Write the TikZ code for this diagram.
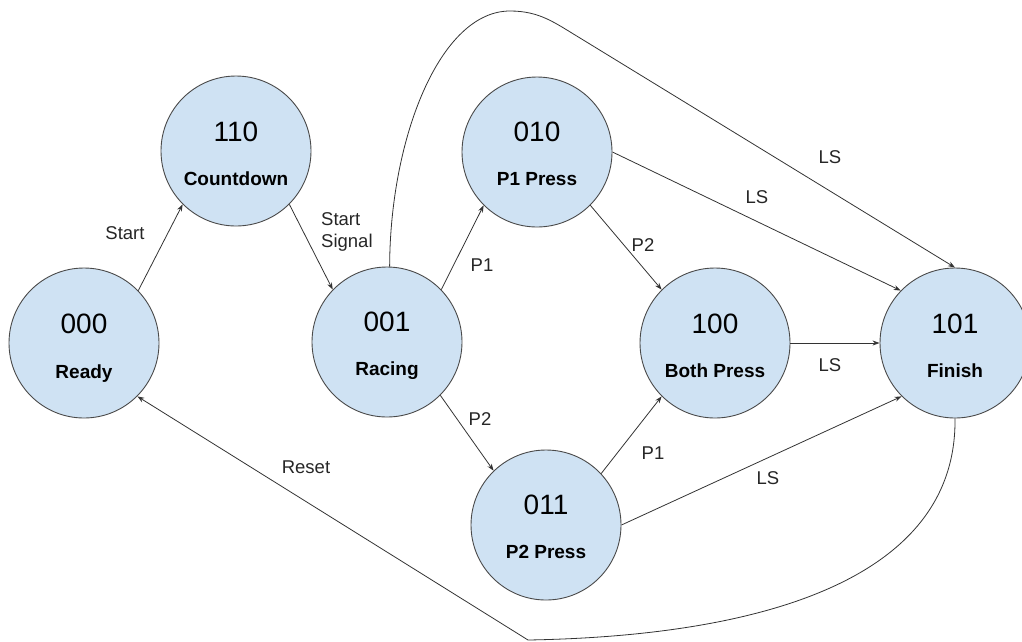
\documentclass[tikz,border=0pt]{standalone}
\usepackage{fontspec}
\setmainfont{Liberation Sans}
\usetikzlibrary{arrows.meta,calc}
\definecolor{stateblue}{HTML}{CFE2F3}
\definecolor{bordergray}{HTML}{4A4A4A}
\definecolor{linegray}{HTML}{333333}
\tikzset{
  state/.style={circle, draw=bordergray, fill=stateblue, line width=0.9pt, minimum size=150pt, inner sep=0pt},
  numtxt/.style={font=\fontsize{28}{32}\selectfont, anchor=base, inner sep=0pt},
  nametxt/.style={font=\bfseries\fontsize{19}{22}\selectfont, anchor=base, inner sep=0pt},
  edgelbl/.style={font=\fontsize{18.5}{22}\selectfont, inner sep=0pt, text=black!85},
  trans/.style={draw=linegray, line width=0.8pt, -{Stealth[length=7pt,width=5pt]}},
}
\begin{document}
\begin{tikzpicture}[x=1pt,y=-1pt]
\useasboundingbox (0,0) rectangle (1022,641);
% states
\node[state] (ready) at (84,343) {};
\node[state] (countdown) at (236,151) {};
\node[state] (racing) at (387,342) {};
\node[state] (p1) at (537,152) {};
\node[state] (p2) at (546,525) {};
\node[state] (both) at (715,343) {};
\node[state] (finish) at (955,343) {};
% state texts
\node[numtxt] (readyn) at ($(ready)+(0,-10)$) {000};
\node[nametxt] (readyl) at ($(ready)+(0,35)$) {Ready};
\node[numtxt] (countdownn) at ($(countdown)+(0,-10)$) {110};
\node[nametxt] (countdownl) at ($(countdown)+(0,34)$) {Countdown};
\node[numtxt] (racingn) at ($(racing)+(0,-11)$) {001};
\node[nametxt] (racingl) at ($(racing)+(0,33)$) {Racing};
\node[numtxt] (p1n) at ($(p1)+(0,-11)$) {010};
\node[nametxt] (p1l) at ($(p1)+(0,33)$) {P1 Press};
\node[numtxt] (p2n) at ($(p2)+(0,-11)$) {011};
\node[nametxt] (p2l) at ($(p2)+(0,33)$) {P2 Press};
\node[numtxt] (bothn) at ($(both)+(0,-10)$) {100};
\node[nametxt] (bothl) at ($(both)+(0,34)$) {Both Press};
\node[numtxt] (finishn) at ($(finish)+(0,-10)$) {101};
\node[nametxt] (finishl) at ($(finish)+(0,34)$) {Finish};
% helper coordinates
\coordinate (tp) at (510,11);
\coordinate (tq) at (580,38);
\coordinate (rb) at (528,640);
% transitions
\draw[trans] (ready.44) -- (countdown.225);
\draw[trans] (countdown.-45) -- (racing.136);
\draw[trans] (racing.44) -- (p1.225);
\draw[trans] (racing.-45) -- (p2.134);
\draw[trans] (p1.-45) -- (both.135);
\draw[trans] (p2.43) -- (both.225);
\draw[trans] (p1.0) -- (finish.136);
\draw[trans] (both.0) -- (finish.180);
\draw[trans] (p2.0) -- (finish.225);
\draw[trans] (racing.88) .. controls (390,138) and (440,11) .. (tp)
   .. controls (540,11) and (555,23) .. (tq) -- (finish.north);
\draw[trans] (finish.south) .. controls (957,580) and (760,636) .. (rb) -- (ready.-45);
% labels
\node[edgelbl] (lstart) at (125,233) {Start};
\node[edgelbl, anchor=north west, align=left] (lsig) at (321,212) {Start\\Signal};
\node[edgelbl] (lp1a) at (482,265) {P1};
\node[edgelbl] (lp2a) at (480,419) {P2};
\node[edgelbl] (lp2b) at (643,245) {P2};
\node[edgelbl] (lp1b) at (653,453) {P1};
\node[edgelbl] (lls1) at (757,197) {LS};
\node[edgelbl] (lls2) at (830,157) {LS};
\node[edgelbl] (lls3) at (830,365) {LS};
\node[edgelbl] (lls4) at (768,478) {LS};
\node[edgelbl] (lreset) at (306,467) {Reset};
\end{tikzpicture}
\end{document}
